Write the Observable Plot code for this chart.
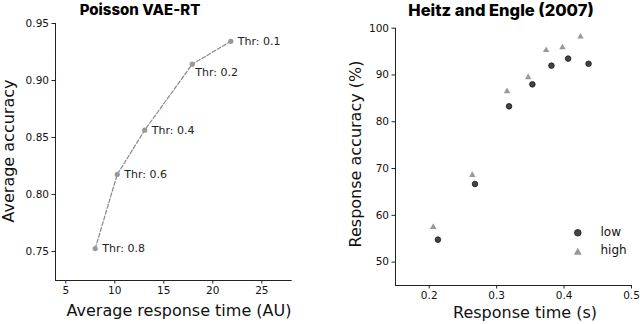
<!DOCTYPE html>
<html>
<head>
<meta charset="utf-8">
<script src="https://cdn.jsdelivr.net/npm/d3@7"></script>
<script src="https://cdn.jsdelivr.net/npm/@observablehq/plot@0.6"></script>
<style>
  html, body { margin: 0; padding: 0; background: #fff; }
  #wrap { position: relative; width: 640px; height: 324px; overflow: hidden; font-family: "DejaVu Sans", sans-serif; color: #111; }
  .panel { position: absolute; top: 0; }
  .title { position: absolute; font-family: Inter, "Liberation Sans", sans-serif; font-weight: 800; font-size: 15px; white-space: nowrap; transform: translate(-50%, 0); line-height: 1; color: #000; }
  .xlab { position: absolute; font-size: 16px; white-space: nowrap; transform: translate(-50%, -50%); line-height: 1; }
  .ylab { position: absolute; font-size: 16px; white-space: nowrap; transform: translate(-50%, -50%) rotate(-90deg); line-height: 1; }
</style>
</head>
<body>
<div id="wrap">
  <div class="title" id="t1" style="left:140px; top:2px;">Poisson VAE-RT</div>
  <div class="title" id="t2" style="left:501px; top:1.5px; font-size:16.5px;">Heitz and Engle (2007)</div>
  <div class="xlab" style="left:179px; top:311px;">Average response time (AU)</div>
  <div class="xlab" style="left:525px; top:313px;">Response time (s)</div>
  <div class="ylab" style="left:9px; top:151px;">Average accuracy</div>
  <div class="ylab" style="left:356px; top:154px;">Response accuracy (%)</div>
</div>
<script>
// ---- Left panel: Poisson VAE-RT ----
const thresholds = [0.8, 0.6, 0.4, 0.2, 0.1];
const vaeRT = [8.0, 10.25, 13.05, 17.9, 21.84];
const vaeAcc = [0.7525, 0.8176, 0.8564, 0.9143, 0.9344];
const leftXTicks = [5, 10, 15, 20, 25];
const leftYTicks = [0.75, 0.80, 0.85, 0.90, 0.95];
const leftXDomain = [3.95, 28.1];
const leftYDomain = [0.7245, 0.95];

// ---- Right panel: Heitz and Engle (2007) ----
const groups = ["low", "high"];
const lowRT = [0.2129, 0.2679, 0.3184, 0.353, 0.3813, 0.406, 0.4363];
const lowAcc = [54.8, 66.7, 83.3, 88.0, 92.0, 93.5, 92.4];
const highRT = [0.206, 0.2639, 0.3154, 0.3467, 0.3734, 0.3976, 0.4244];
const highAcc = [57.5, 68.6, 86.5, 89.5, 95.3, 95.9, 98.2];
const rightXTicks = [0.2, 0.3, 0.4, 0.5];
const rightYTicks = [50, 60, 70, 80, 90, 100];
const rightXDomain = [0.15, 0.5];
const rightYDomain = [45, 100];

const vae = thresholds.map((t, i) => ({thr: t, rt: vaeRT[i], acc: vaeAcc[i]}));
const heitz = [
  ...lowRT.map((v, i) => ({group: "low", rt: v, acc: lowAcc[i]})),
  ...highRT.map((v, i) => ({group: "high", rt: v, acc: highAcc[i]}))
];

const axisStyle = {fontSize: 10.5, tickSize: 3.5, tickPadding: 3, stroke: "#222", color: "#111"};

const left = Plot.plot({
  width: 320, height: 324,
  marginLeft: 55, marginRight: 28.3, marginTop: 23, marginBottom: 44,
  style: {fontFamily: "DejaVu Sans, sans-serif", background: "transparent", overflow: "visible"},
  x: {domain: leftXDomain},
  y: {domain: leftYDomain},
  marks: [
    Plot.axisX({...axisStyle, ticks: leftXTicks, tickFormat: d3.format("d"), label: null}),
    Plot.axisY({...axisStyle, ticks: leftYTicks, tickFormat: d3.format(".2f"), label: null}),
    Plot.ruleX([leftXDomain[0]], {stroke: "#222", strokeWidth: 1}),
    Plot.ruleY([leftYDomain[0]], {stroke: "#222", strokeWidth: 1}),
    Plot.line(vae, {x: "rt", y: "acc", stroke: "#888", strokeWidth: 1.2, strokeDasharray: "4,2"}),
    Plot.dot(vae, {x: "rt", y: "acc", r: 2.6, fill: "#999", stroke: "none"}),
    Plot.text(vae, {filter: d => d.thr !== 0.2, x: "rt", y: "acc", text: d => `Thr: ${d.thr}`, dx: 7, textAnchor: "start", fontSize: 11, fill: "#222"}),
    Plot.text(vae, {filter: d => d.thr === 0.2, x: "rt", y: "acc", text: d => `Thr: ${d.thr}`, dx: 3, dy: 8, textAnchor: "start", fontSize: 11, fill: "#222"})
  ]
});
left.classList.add("panel");
left.style.left = "0px";

const legendData = groups.map(g => ({group: g}));

const right = Plot.plot({
  width: 320, height: 324,
  marginLeft: 75, marginRight: 9, marginTop: 27.7, marginBottom: 39,
  style: {fontFamily: "DejaVu Sans, sans-serif", background: "transparent", overflow: "visible"},
  x: {domain: rightXDomain},
  y: {domain: rightYDomain},
  symbol: {domain: groups, range: ["circle", "triangle"]},
  marks: [
    Plot.axisX({...axisStyle, ticks: rightXTicks, tickFormat: d3.format(".1f"), label: null}),
    Plot.axisY({...axisStyle, ticks: rightYTicks, tickFormat: d3.format("d"), label: null}),
    Plot.ruleX([rightXDomain[0]], {stroke: "#222", strokeWidth: 1}),
    Plot.ruleY([rightYDomain[0]], {stroke: "#222", strokeWidth: 1}),
    Plot.dot(heitz, {filter: d => d.group === "high", x: "rt", y: "acc", symbol: "group", r: 2.4, fill: "#999", stroke: "none"}),
    Plot.dot(heitz, {filter: d => d.group === "low", x: "rt", y: "acc", symbol: "group", r: 2.8, fill: "#444", stroke: "#1a1a1a", strokeWidth: 0.8}),
    // legend
    Plot.dot(legendData, {filter: d => d.group === "low", frameAnchor: "bottom-right", dx: -53.7, dy: -52.7, symbol: "group", r: 3.3, fill: "#444", stroke: "#1a1a1a", strokeWidth: 0.8}),
    Plot.dot(legendData, {filter: d => d.group === "high", frameAnchor: "bottom-right", dx: -53.7, dy: -33, symbol: "group", r: 3, fill: "#999", stroke: "none"}),
    Plot.text(legendData, {filter: d => d.group === "low", frameAnchor: "bottom-right", dx: -31, dy: -53, text: "group", textAnchor: "start", lineAnchor: "middle", fontSize: 12, fill: "#111"}),
    Plot.text(legendData, {filter: d => d.group === "high", frameAnchor: "bottom-right", dx: -31, dy: -35, text: "group", textAnchor: "start", lineAnchor: "middle", fontSize: 12, fill: "#111"})
  ]
});
right.classList.add("panel");
right.style.left = "320px";

const wrap = document.getElementById("wrap");
wrap.insertBefore(right, wrap.firstChild);
wrap.insertBefore(left, wrap.firstChild);
</script>
</body>
</html>
